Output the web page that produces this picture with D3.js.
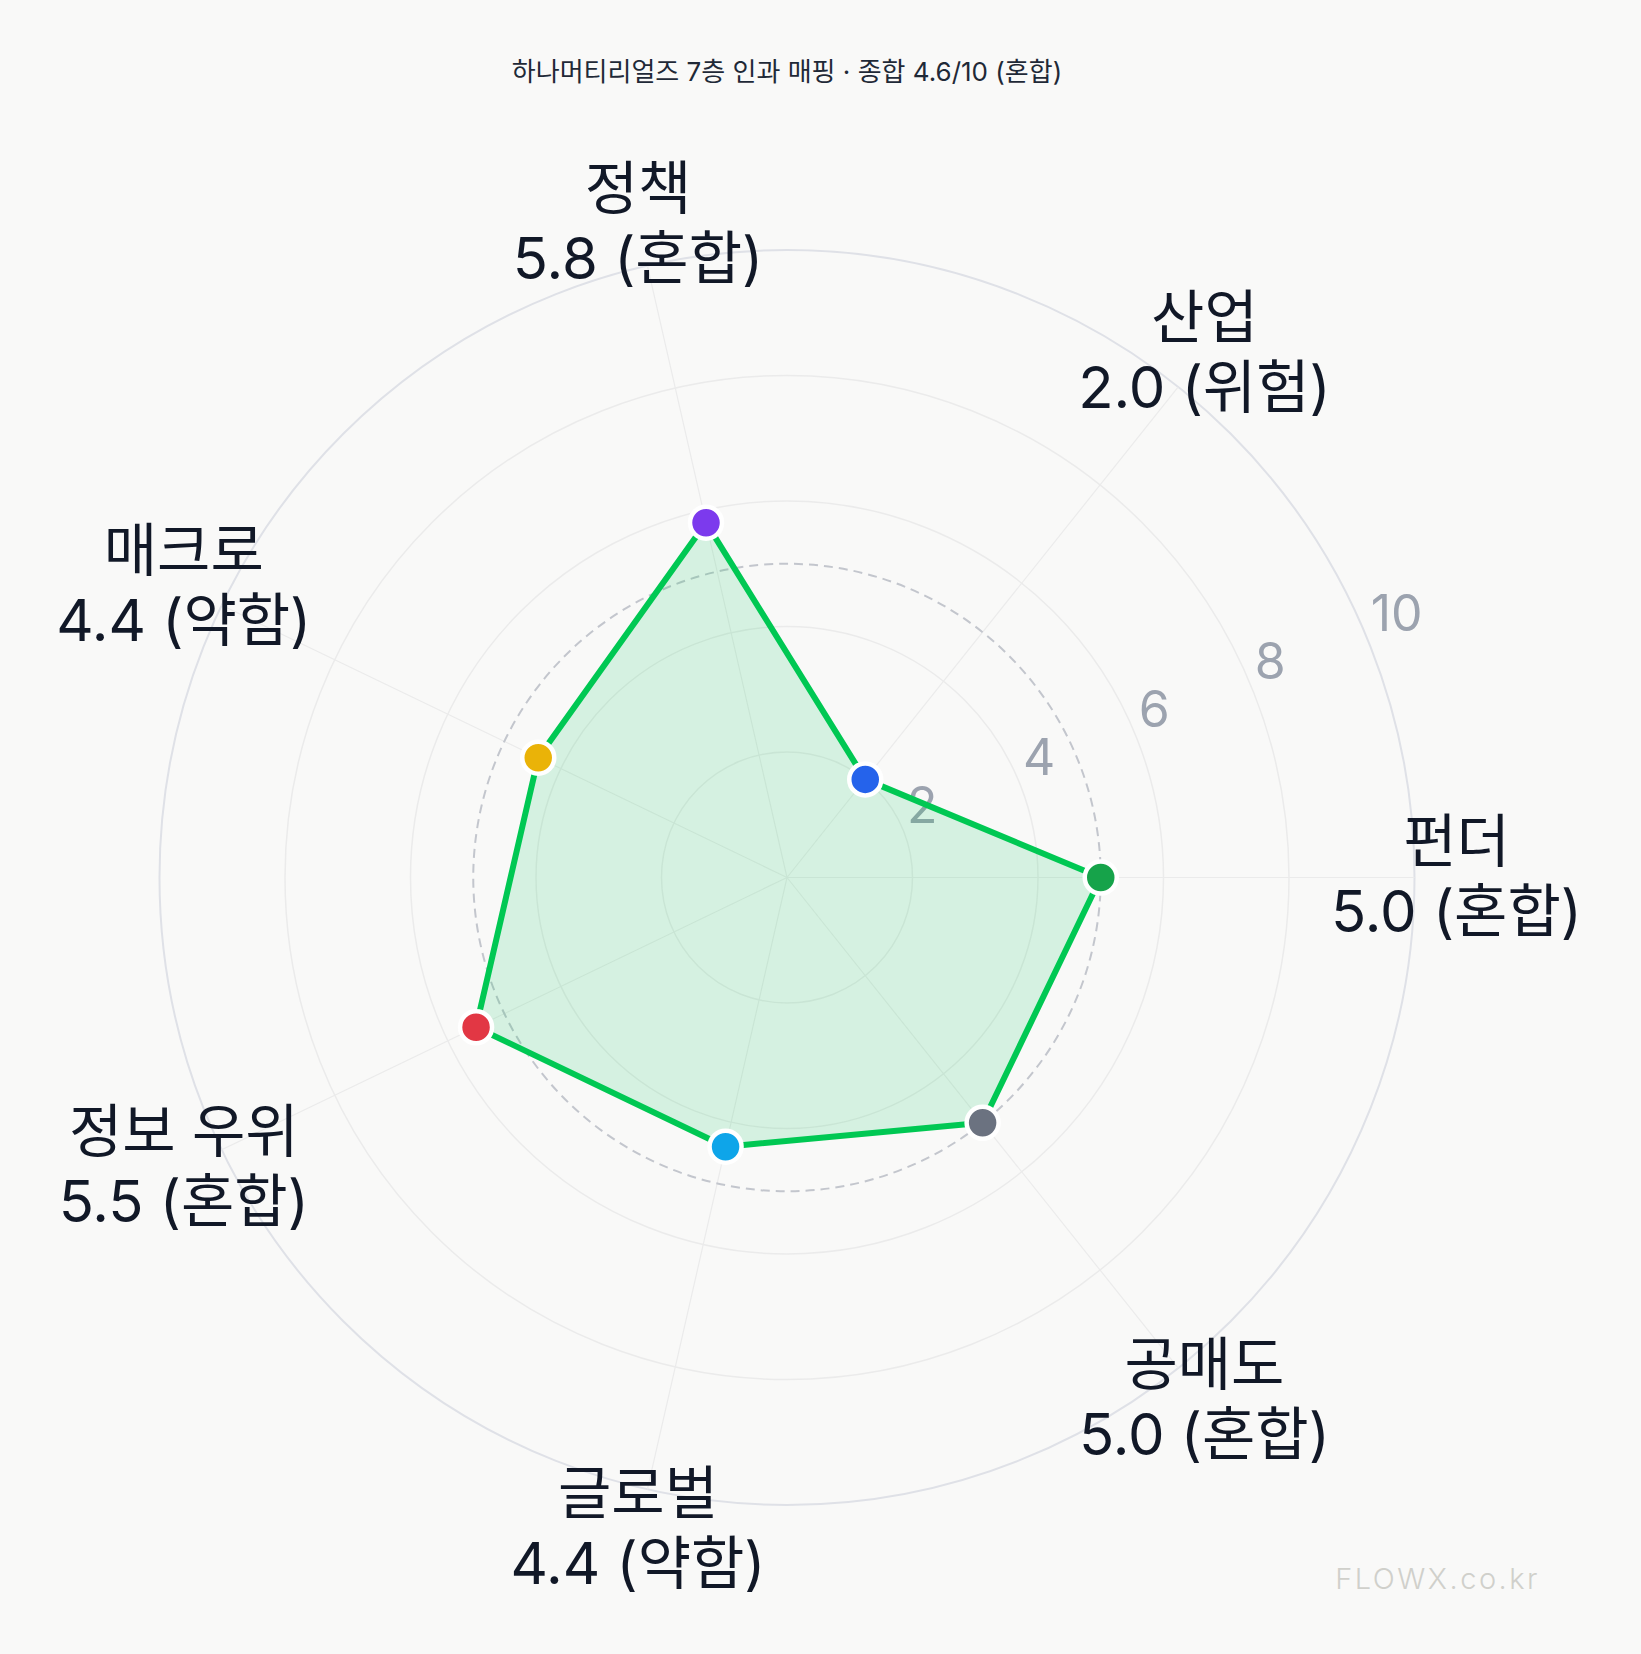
<!DOCTYPE html>
<html>
<head>
<meta charset="utf-8">
<script src="https://cdn.jsdelivr.net/npm/d3@7"></script>
<style>
html,body{margin:0;padding:0;background:#f9f9f8;}
svg{display:block;}
</style>
</head>
<body>
<script>
const categories = ["펀더", "산업", "정책", "매크로", "정보 우위", "글로벌", "공매도"];
const values = [5.0, 2.0, 5.8, 4.4, 5.5, 4.4, 5.0];
const statuses = ["혼합", "위험", "혼합", "약함", "혼합", "약함", "혼합"];
const pointColors = ["#16a34a", "#2563eb", "#7c3aed", "#eab308", "#e23744", "#0ea5e9", "#6b7280"];
const ringTicks = [2, 4, 6, 8, 10];
const midValue = 5;
const titleText = "하나머티리얼즈 7층 인과 매핑 · 종합 4.6/10 (혼합)";
const watermark = "FLOWX.co.kr";

const W = 1641, H = 1654;
const cx = 787, cy = 877.5, R = 627.5;
const FONT = "Inter, 'Noto Sans CJK KR', sans-serif";

const svg = d3.select("body").append("svg").attr("width", W).attr("height", H);
svg.append("rect").attr("width", W).attr("height", H).attr("fill", "#f9f9f8");

const r = d3.scaleLinear().domain([0, 10]).range([0, R]);
const n = categories.length;
const ang = d3.scaleLinear().domain([0, n]).range([0, 2 * Math.PI]);
const px = (i, v) => cx + r(v) * Math.cos(ang(i));
const py = (i, v) => cy - r(v) * Math.sin(ang(i));

const g = svg.append("g");

// rings
g.selectAll("circle.ring").data(ringTicks).join("circle")
  .attr("class", "ring")
  .attr("cx", cx).attr("cy", cy).attr("r", d => r(d))
  .attr("fill", "none")
  .attr("stroke", d => d === 10 ? "#dfe1e7" : "#ebebeb")
  .attr("stroke-width", d => d === 10 ? 2 : 1.5);

// axes
g.selectAll("line.axis").data(categories).join("line")
  .attr("class", "axis")
  .attr("x1", cx).attr("y1", cy)
  .attr("x2", (d, i) => px(i, 10)).attr("y2", (d, i) => py(i, 10))
  .attr("stroke", "#ebebeb").attr("stroke-width", 1.2);

// dashed midline
g.append("circle").attr("cx", cx).attr("cy", cy).attr("r", r(midValue))
  .attr("fill", "none").attr("stroke", "#c3c6cd").attr("stroke-width", 2)
  .attr("stroke-dasharray", "9,6");

// tick labels
const tickAng = Math.PI / 8;
g.selectAll("text.tick").data(ringTicks).join("text")
  .attr("class", "tick")
  .attr("x", d => cx + r(d) * Math.cos(tickAng) + 4)
  .attr("y", d => cy - r(d) * Math.sin(tickAng) - 24)
  .attr("text-anchor", "start").attr("dominant-baseline", "central")
  .attr("font-family", FONT).attr("font-size", 50)
  .attr("fill", "#9ca3af")
  .text(d => d);

// polygon
const line = d3.line().curve(d3.curveLinearClosed);
const pts = values.map((v, i) => [px(i, v), py(i, v)]);
g.append("path").attr("d", line(pts))
  .attr("fill", "#00c853").attr("fill-opacity", 0.14)
  .attr("stroke", "#00c853").attr("stroke-width", 6)
  .attr("stroke-linejoin", "round");

// points
g.selectAll("circle.pt").data(values).join("circle")
  .attr("class", "pt")
  .attr("cx", (d, i) => px(i, d)).attr("cy", (d, i) => py(i, d))
  .attr("r", 16)
  .attr("fill", (d, i) => pointColors[i])
  .attr("stroke", "#ffffff").attr("stroke-width", 4.5);

// labels
const LR = R * 1.067;
const lab = g.selectAll("text.lab").data(categories).join("text")
  .attr("class", "lab")
  .attr("x", (d, i) => cx + LR * Math.cos(ang(i)))
  .attr("y", (d, i) => cy - LR * Math.sin(ang(i)))
  .attr("text-anchor", "middle")
  .attr("font-family", FONT).attr("font-size", 58)
  .attr("fill", "#111827");
lab.append("tspan")
  .attr("x", (d, i) => cx + LR * Math.cos(ang(i)))
  .attr("dy", -16)
  .text(d => d);
lab.append("tspan")
  .attr("x", (d, i) => cx + LR * Math.cos(ang(i)))
  .attr("dy", 70)
  .text((d, i) => `${values[i].toFixed(1)} (${statuses[i]})`);

// title
svg.append("text").attr("x", cx).attr("y", 81)
  .attr("text-anchor", "middle")
  .attr("font-family", FONT).attr("font-size", 26)
  .attr("fill", "#1f2937")
  .text(titleText);

// watermark
svg.append("text").attr("x", 1540).attr("y", 1589)
  .attr("text-anchor", "end")
  .attr("font-family", FONT).attr("font-size", 29).attr("font-weight", 300)
  .attr("letter-spacing", 2.5)
  .attr("fill", "#d0d0cb")
  .text(watermark);
</script>
</body>
</html>
